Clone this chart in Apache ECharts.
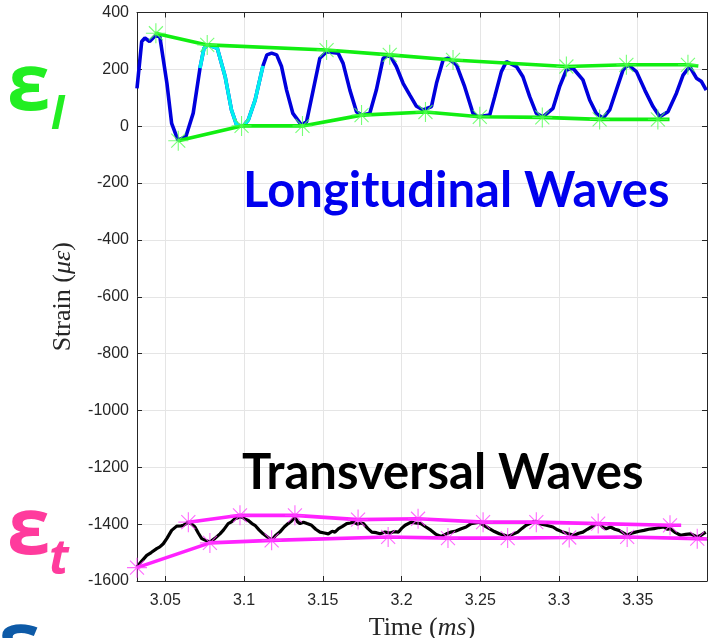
<!DOCTYPE html>
<html><head><meta charset="utf-8">
<script src="https://cdn.jsdelivr.net/npm/echarts@6/dist/echarts.min.js"></script>
<style>html,body{margin:0;padding:0;background:#fff}#c{width:709px;height:638px}</style>
</head><body><div id="c"></div>
<script>
// ---- data ----
const xTicks = [3.05, 3.1, 3.15, 3.2, 3.25, 3.3, 3.35];
const xRange = [3.032, 3.394];
const yRange = [-1600, 400];
const yStep = 200;

const longitudinal = [[3.0320,133],[3.0350,298],[3.0370,310],[3.0400,298],[3.0440,321],[3.0465,315],[3.0510,151],[3.0540,10],[3.0580,-49],[3.0630,-37],[3.0677,46],[3.0720,204],[3.0745,274],[3.0772,286],[3.0830,274],[3.0880,174],[3.0920,57],[3.0953,4],[3.0995,0],[3.1027,22],[3.1070,92],[3.1120,212],[3.1145,251],[3.1175,257],[3.1207,251],[3.1238,210],[3.1270,127],[3.1310,45],[3.1365,4],[3.1397,16],[3.1439,127],[3.1481,239],[3.1524,262],[3.1597,257],[3.1629,221],[3.1672,127],[3.1714,51],[3.1746,39],[3.1798,45],[3.1840,127],[3.1883,239],[3.1925,251],[3.1967,210],[3.2010,151],[3.2052,110],[3.2095,70],[3.2137,57],[3.2190,69],[3.2222,151],[3.2264,233],[3.2295,239],[3.2349,216],[3.2401,139],[3.2454,45],[3.2486,33],[3.2560,39],[3.2592,104],[3.2634,192],[3.2666,227],[3.2730,210],[3.2771,174],[3.2814,104],[3.2856,45],[3.2898,33],[3.2962,63],[3.3004,139],[3.3047,198],[3.3089,204],[3.3152,163],[3.3195,92],[3.3237,45],[3.3280,28],[3.3322,57],[3.3364,127],[3.3407,198],[3.3439,216],[3.3492,192],[3.3545,127],[3.3597,69],[3.3640,33],[3.3692,51],[3.3746,116],[3.3788,180],[3.3830,210],[3.3873,169],[3.3905,157],[3.3935,127]];
const highlightSpan = [3.072, 3.112];

const longUpperLine = [[3.0435,327],[3.0766,286],[3.1524,268],[3.1925,251],[3.2327,233],[3.3047,210],[3.3428,216],[3.3819,216],[3.3885,212]];
const longUpperMarks = [[3.0440,327],[3.0766,286],[3.1524,268],[3.1925,251],[3.2327,233],[3.3047,210],[3.3428,216],[3.3819,216]];
const longLowerLine = [[3.0582,-51],[3.0984,1],[3.1371,1],[3.1746,39],[3.2152,50],[3.2497,33],[3.2894,31],[3.3258,24],[3.3628,24],[3.3702,24]];
const longLowerMarks = [[3.0582,-51],[3.0984,1],[3.1371,1],[3.1746,39],[3.2152,50],[3.2497,33],[3.2894,31],[3.3258,24],[3.3628,24]];

const transversal = [[3.0320,-1551],[3.0350,-1530],[3.0382,-1510],[3.0410,-1500],[3.0445,-1486],[3.0465,-1480],[3.0487,-1469],[3.0510,-1450],[3.0540,-1422],[3.0572,-1407],[3.0600,-1406],[3.0614,-1404],[3.0646,-1393],[3.0668,-1400],[3.0688,-1410],[3.0710,-1432],[3.0731,-1451],[3.0760,-1458],[3.0783,-1463],[3.0815,-1450],[3.0847,-1434],[3.0870,-1420],[3.0899,-1398],[3.0920,-1392],[3.0942,-1381],[3.0984,-1373],[3.1005,-1382],[3.1027,-1387],[3.1050,-1398],[3.1069,-1404],[3.1095,-1420],[3.1121,-1434],[3.1150,-1446],[3.1175,-1457],[3.1200,-1440],[3.1227,-1428],[3.1255,-1410],[3.1280,-1398],[3.1300,-1390],[3.1323,-1375],[3.1340,-1392],[3.1355,-1398],[3.1377,-1393],[3.1400,-1398],[3.1429,-1404],[3.1455,-1418],[3.1482,-1428],[3.1510,-1431],[3.1535,-1434],[3.1560,-1425],[3.1577,-1428],[3.1600,-1416],[3.1625,-1408],[3.1652,-1398],[3.1675,-1396],[3.1695,-1393],[3.1720,-1400],[3.1740,-1396],[3.1758,-1398],[3.1785,-1415],[3.1811,-1428],[3.1840,-1430],[3.1864,-1434],[3.1895,-1428],[3.1928,-1431],[3.1955,-1426],[3.1981,-1428],[3.2000,-1415],[3.2023,-1404],[3.2061,-1393],[3.2090,-1396],[3.2124,-1398],[3.2155,-1410],[3.2188,-1422],[3.2220,-1436],[3.2252,-1443],[3.2285,-1434],[3.2315,-1428],[3.2345,-1424],[3.2379,-1416],[3.2410,-1410],[3.2442,-1398],[3.2494,-1393],[3.2525,-1405],[3.2558,-1416],[3.2590,-1426],[3.2621,-1434],[3.2650,-1438],[3.2674,-1443],[3.2705,-1436],[3.2738,-1428],[3.2765,-1415],[3.2791,-1404],[3.2833,-1393],[3.2855,-1390],[3.2875,-1398],[3.2920,-1404],[3.2962,-1410],[3.2990,-1420],[3.3025,-1428],[3.3060,-1434],[3.3099,-1439],[3.3125,-1432],[3.3152,-1428],[3.3180,-1418],[3.3205,-1410],[3.3230,-1402],[3.3258,-1398],[3.3280,-1412],[3.3300,-1416],[3.3327,-1410],[3.3355,-1418],[3.3380,-1422],[3.3405,-1430],[3.3433,-1439],[3.3460,-1432],[3.3486,-1428],[3.3510,-1425],[3.3539,-1422],[3.3570,-1418],[3.3603,-1416],[3.3635,-1412],[3.3666,-1410],[3.3690,-1418],[3.3708,-1416],[3.3740,-1430],[3.3772,-1439],[3.3805,-1436],[3.3836,-1434],[3.3858,-1440],[3.3878,-1445],[3.3905,-1438],[3.3932,-1428]];

const transUpperLine = [[3.0646,-1393],[3.0974,-1369],[3.1323,-1369],[3.1724,-1384],[3.2105,-1381],[3.2518,-1393],[3.2856,-1393],[3.3249,-1398],[3.3705,-1404],[3.3776,-1404]];
const transUpperMarks = [[3.0646,-1393],[3.0974,-1369],[3.1323,-1369],[3.1724,-1384],[3.2105,-1381],[3.2518,-1393],[3.2856,-1393],[3.3249,-1398],[3.3705,-1404]];
const transLowerLine = [[3.0320,-1553],[3.0783,-1466],[3.1175,-1457],[3.1915,-1445],[3.2295,-1449],[3.2674,-1449],[3.3065,-1447],[3.3433,-1445],[3.3878,-1451],[3.3940,-1452]];
const transLowerMarks = [[3.0320,-1553],[3.0783,-1466],[3.1175,-1457],[3.1915,-1445],[3.2295,-1449],[3.2674,-1449],[3.3065,-1447],[3.3433,-1445],[3.3878,-1451]];

const yTitle = '{n|Strain (}{i|με}{n|)}';
const xTitle = '{n|Time (}{i|ms}{n|)}';

// ---- chart ----
const AX = '#262626';
const GRIDC = '#e5e5e5';
const STAR = 'path://M10,0L10,20M0,10L20,10M3,3L17,17M3,17L17,3';
const fmtX = v => String(+(+v).toFixed(2));
const fmtY = v => String(v);
const TFS = 26;
const titleRich = {
  n: { fontFamily: 'Liberation Serif', fontSize: TFS, lineHeight: 28, color: AX },
  i: { fontFamily: 'Liberation Serif', fontStyle: 'italic', fontSize: TFS, lineHeight: 28, color: AX }
};
const titleStyle = { fontFamily: 'Liberation Serif', fontSize: TFS, lineHeight: 28, color: AX, rich: titleRich };

function lineSeries(data, color, z, w) {
  return { type: 'line', data, showSymbol: false, symbol: 'none', z: z || 2,
    lineStyle: { color, width: w || 3.6 }, silent: true, animation: false };
}
function starSeries(data, color) {
  return { type: 'scatter', data, symbol: STAR, symbolSize: 20, z: 5, silent: true, animation: false,
    itemStyle: { color: 'rgba(0,0,0,0)', borderColor: color, borderWidth: 1.1 } };
}

const cyanPart = longitudinal.filter(p => p[0] >= highlightSpan[0] && p[0] <= highlightSpan[1]);

const chart = echarts.init(document.getElementById('c'), null, { renderer: 'canvas' });
chart.setOption({
  animation: false,
  backgroundColor: '#fff',
  grid: { left: 137, right: 2, top: 12.5, bottom: 57, containLabel: false, outerBoundsMode: 'none' },
  xAxis: [
    { type: 'value', min: xRange[0], max: xRange[1], position: 'bottom',
      name: xTitle, nameLocation: 'middle', nameGap: 28, nameTextStyle: titleStyle,
      axisLine: { show: true, onZero: false, lineStyle: { color: AX, width: 1 } },
      axisTick: { show: true, inside: true, length: 5, customValues: xTicks, lineStyle: { color: AX } },
      axisLabel: { show: true, customValues: xTicks, formatter: fmtX, margin: 12,
        color: AX, fontFamily: 'Liberation Sans', fontSize: 16 },
      splitLine: { show: true, lineStyle: { color: GRIDC, width: 1 } } },
    { type: 'value', min: xRange[0], max: xRange[1], position: 'top',
      axisLine: { show: true, onZero: false, lineStyle: { color: AX, width: 1 } },
      axisTick: { show: true, inside: true, length: 5, customValues: xTicks, lineStyle: { color: AX } },
      axisLabel: { show: false }, splitLine: { show: false } }
  ],
  yAxis: [
    { type: 'value', min: yRange[0], max: yRange[1], interval: yStep, position: 'left',
      name: yTitle, nameLocation: 'middle', nameGap: 50, nameTextStyle: titleStyle,
      axisLine: { show: true, onZero: false, lineStyle: { color: AX, width: 1 } },
      axisTick: { show: true, inside: true, length: 5, lineStyle: { color: AX } },
      axisLabel: { show: true, margin: 8, formatter: fmtY, color: AX, fontFamily: 'Liberation Sans', fontSize: 16 },
      splitLine: { show: true, lineStyle: { color: GRIDC, width: 1 } } },
    { type: 'value', min: yRange[0], max: yRange[1], interval: yStep, position: 'right',
      axisLine: { show: true, onZero: false, lineStyle: { color: AX, width: 1 } },
      axisTick: { show: true, inside: true, length: 5, lineStyle: { color: AX } },
      axisLabel: { show: false }, splitLine: { show: false } }
  ],
  series: [
    lineSeries(longitudinal, '#0000dd', 2),
    lineSeries(cyanPart, '#00f0f0', 3),
    lineSeries(longUpperLine, '#11ee11', 4),
    lineSeries(longLowerLine, '#11ee11', 4),
    starSeries(longUpperMarks, '#55ff55'),
    starSeries(longLowerMarks, '#55ff55'),
    lineSeries(transversal, '#000000', 2, 3.2),
    lineSeries(transUpperLine, '#ff22ff', 4),
    lineSeries(transLowerLine, '#ff22ff', 4),
    starSeries(transUpperMarks, '#ff44ff'),
    starSeries(transLowerMarks, '#ff44ff')
  ],
  graphic: [
    { type: 'text', x: 243, y: 191, z: 100, style: { text: 'Longitudinal Waves', fill: '#0000ee',
      font: 'bold 49px Lato', align: 'left', verticalAlign: 'middle' } },
    { type: 'text', x: 242, y: 473, z: 100, style: { text: 'Transversal Waves', fill: '#000000',
      font: 'bold 49px Lato', align: 'left', verticalAlign: 'middle' } },
    { type: 'text', x: 7, y: 88, z: 100, style: { text: 'ε', fill: '#22ee22',
      font: 'bold 78px "Open Sans"', align: 'left', verticalAlign: 'middle' } },
    { type: 'text', x: 51, y: 116, z: 100, style: { text: 'l', fill: '#22ee22',
      font: 'italic bold 44px "Open Sans"', align: 'left', verticalAlign: 'middle' } },
    { type: 'text', x: 7, y: 532, z: 100, style: { text: 'ε', fill: '#ff3b9d',
      font: 'bold 78px "Open Sans"', align: 'left', verticalAlign: 'middle' } },
    { type: 'text', x: 49, y: 560, z: 100, style: { text: 't', fill: '#ff3b9d',
      font: 'italic bold 48px "Open Sans"', align: 'left', verticalAlign: 'middle' } },
    { type: 'text', x: -3, y: 646, z: 100, style: { text: 'ε', fill: '#0d5aa7',
      font: 'bold 78px "Open Sans"', align: 'left', verticalAlign: 'middle' } }
  ]
});
</script>
</body></html>
